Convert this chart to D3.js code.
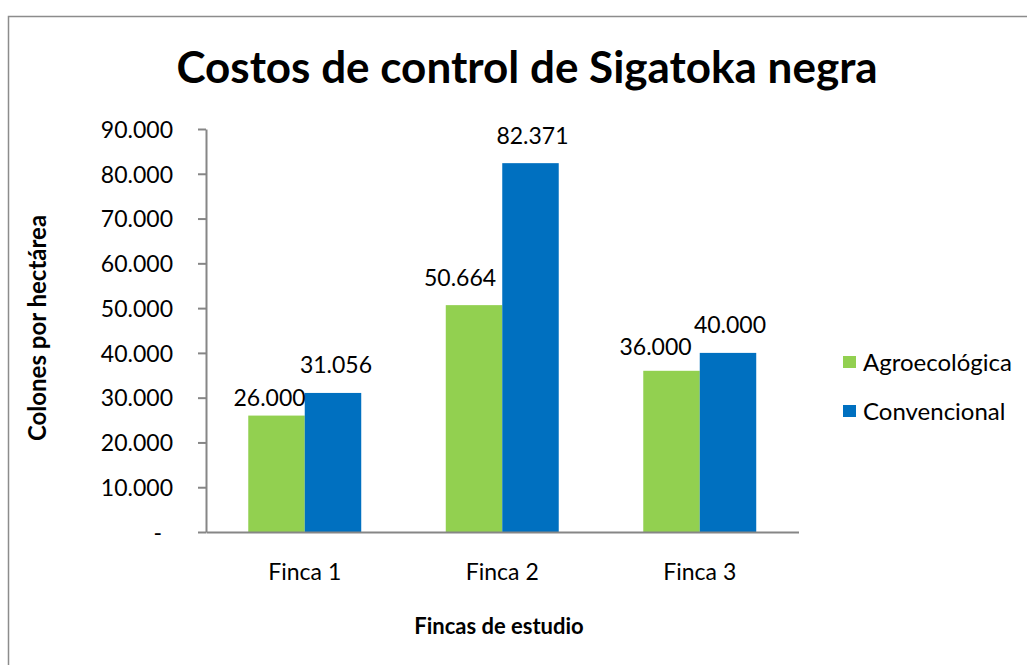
<!DOCTYPE html>
<html>
<head>
<meta charset="utf-8">
<script src="https://cdn.jsdelivr.net/npm/d3@7"></script>
<style>
  body { margin: 0; background: #ffffff; }
  svg { display: block; }
</style>
</head>
<body>
<div id="canvas"></div>
<script>
// Data.
const categories = ["Finca 1", "Finca 2", "Finca 3"];
const seriesNames = ["Agroecológica", "Convencional"];
const agroecologica = [26000, 50664, 36000];
const convencional = [31056, 82371, 40000];
const yTicks = [0, 10000, 20000, 30000, 40000, 50000, 60000, 70000, 80000, 90000];

// Dimension and color constants.
const WIDTH = 1027;
const HEIGHT = 665;
const PLOT_LEFT = 206;
const PLOT_RIGHT = 798.5;
const PLOT_TOP = 129;
const PLOT_BOTTOM = 532;

const GREEN = "#92D050";
const BLUE = "#0070C0";
const AXIS_COLOR = "#868686";
const TEXT_COLOR = "#000000";
const FONT = "Lato, 'Open Sans', sans-serif";

// Hand-placed label offsets, as the labels in the original were moved around.
const labelNudge = [
    [[-7, 9], [3, -1]],
    [[-14, 0], [2, 0]],
    [[-16, 3], [2, -1]]
];

const svg = d3.select("#canvas")
                .append("svg")
                .attr("width", WIDTH)
                .attr("height", HEIGHT);

// Chart frame (its right and bottom edges fall outside the picture).
svg.append("rect")
    .attr("x", 8.5)
    .attr("y", 16.5)
    .attr("width", WIDTH + 20)
    .attr("height", HEIGHT + 20)
    .attr("fill", "#ffffff")
    .attr("stroke", "#8c8c8c")
    .attr("stroke-width", 1.5);

// Dotted thousands, as in the Spanish locale.
const locale = d3.formatLocale({ decimal: ",", thousands: ".", grouping: [3], currency: ["", ""] });
const fmt = locale.format(",.0f");

// Scales.
const xScale = d3.scaleBand()
                    .domain(categories)
                    .range([PLOT_LEFT, PLOT_RIGHT])
                    .paddingInner(0.428)
                    .paddingOuter(0.214);
const xSub = d3.scaleBand()
                    .domain(seriesNames)
                    .range([0, xScale.bandwidth()]);
const yScale = d3.scaleLinear()
                    .domain([0, 90000])
                    .range([PLOT_BOTTOM, PLOT_TOP]);
const color = d3.scaleOrdinal()
                    .domain(seriesNames)
                    .range([GREEN, BLUE]);

// Y axis.
const yAxis = d3.axisLeft(yScale)
                .tickValues(yTicks)
                .tickSize(8)
                .tickSizeOuter(0)
                .tickPadding(25)
                .tickFormat(d => d === 0 ? "-" : fmt(d));

const yAxisGroup = svg.append("g")
                        .attr("transform", `translate(${PLOT_LEFT}, 0)`)
                        .call(yAxis);
yAxisGroup.select(".domain").attr("stroke", AXIS_COLOR).attr("stroke-width", 2);
yAxisGroup.selectAll(".tick line").attr("stroke", AXIS_COLOR).attr("stroke-width", 2);
yAxisGroup.selectAll(".tick text")
    .attr("font-family", FONT)
    .attr("font-size", 23)
    .attr("fill", TEXT_COLOR)
    .attr("dy", "0.36em")
    .attr("dx", d => d === 0 ? -11 : 0);

// Bars, one group per farm.
const rows = categories.map((c, i) => ({
    category: c,
    values: [
        { series: seriesNames[0], value: agroecologica[i], nudge: labelNudge[i][0] },
        { series: seriesNames[1], value: convencional[i], nudge: labelNudge[i][1] }
    ]
}));

const groups = svg.append("g")
                    .selectAll("g")
                    .data(rows)
                    .join("g")
                    .attr("transform", d => `translate(${xScale(d.category)}, 0)`);

groups.selectAll("rect")
    .data(d => d.values)
    .join("rect")
    .attr("x", d => xSub(d.series))
    .attr("y", d => yScale(d.value))
    .attr("width", xSub.bandwidth())
    .attr("height", d => yScale(0) - yScale(d.value))
    .attr("fill", d => color(d.series));

// Value labels.
groups.selectAll("text")
    .data(d => d.values)
    .join("text")
    .attr("x", d => xSub(d.series) + xSub.bandwidth() / 2 + d.nudge[0])
    .attr("y", d => yScale(d.value) - 19 + d.nudge[1])
    .attr("text-anchor", "middle")
    .attr("font-family", FONT)
    .attr("font-size", 23)
    .attr("fill", TEXT_COLOR)
    .text(d => fmt(d.value));

// X axis.
const xAxis = d3.axisBottom(xScale)
                .tickSize(0)
                .tickSizeOuter(0)
                .tickPadding(32);

const xAxisGroup = svg.append("g")
                        .attr("transform", `translate(0, ${PLOT_BOTTOM})`)
                        .call(xAxis);
xAxisGroup.select(".domain").attr("stroke", AXIS_COLOR).attr("stroke-width", 2);
xAxisGroup.selectAll(".tick text")
    .attr("font-family", FONT)
    .attr("font-size", 23)
    .attr("fill", TEXT_COLOR);

// Title and axis titles.
svg.append("text")
    .attr("x", 527)
    .attr("y", 83)
    .attr("text-anchor", "middle")
    .attr("font-family", FONT)
    .attr("font-weight", "bold")
    .attr("font-size", 44)
    .attr("fill", TEXT_COLOR)
    .text("Costos de control de Sigatoka negra");

svg.append("text")
    .attr("x", 499)
    .attr("y", 634)
    .attr("text-anchor", "middle")
    .attr("font-family", FONT)
    .attr("font-weight", "bold")
    .attr("font-size", 22)
    .attr("fill", TEXT_COLOR)
    .text("Fincas de estudio");

svg.append("text")
    .attr("transform", "translate(46, 328) rotate(-90)")
    .attr("text-anchor", "middle")
    .attr("font-family", FONT)
    .attr("font-weight", "bold")
    .attr("font-size", 24)
    .attr("fill", TEXT_COLOR)
    .text("Colones por hectárea");

// Legend.
const legend = svg.append("g")
                    .selectAll("g")
                    .data(seriesNames)
                    .join("g")
                    .attr("transform", (d, i) => `translate(843, ${356 + i * 49})`);

legend.append("rect")
    .attr("width", 13)
    .attr("height", 12)
    .attr("fill", d => color(d));

legend.append("text")
    .attr("x", 20)
    .attr("y", 6)
    .attr("dy", "0.36em")
    .attr("font-family", FONT)
    .attr("font-size", 24)
    .attr("fill", TEXT_COLOR)
    .text(d => d);
</script>
</body>
</html>
